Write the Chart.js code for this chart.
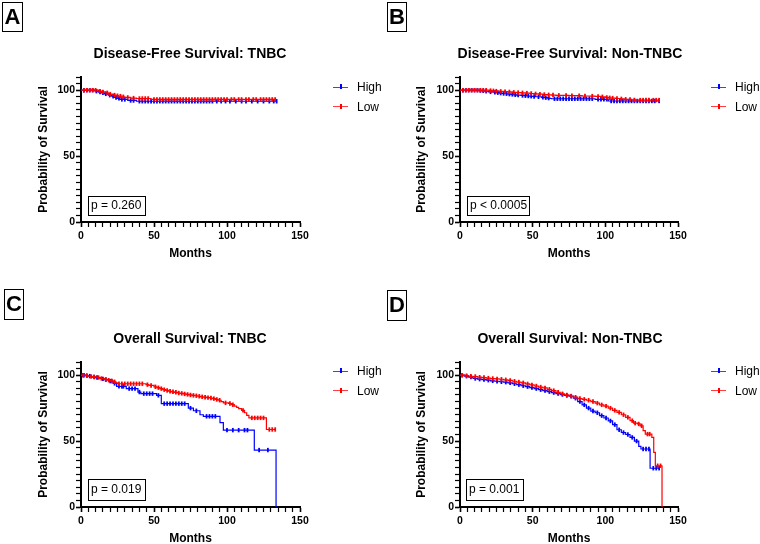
<!DOCTYPE html>
<html><head><meta charset="utf-8">
<script src="https://cdn.jsdelivr.net/npm/chart.js@4.4.1/dist/chart.umd.min.js"></script>
<style>
html,body{margin:0;padding:0;background:#fff;overflow:hidden;width:760px;height:544px;}
body{position:relative;font-family:'Liberation Sans',Arial,Helvetica,sans-serif;color:#000;}
canvas{position:absolute;}
.letter{position:absolute;border:1.5px solid #000;font-weight:bold;font-size:22px;text-align:center;box-sizing:border-box;}
.pbox{position:absolute;border:1.5px solid #000;font-size:12px;box-sizing:border-box;padding-left:2px;white-space:nowrap;}
.lgline{position:absolute;height:1px;width:15px;}
.lgtick{position:absolute;width:2px;height:5px;}
.lgtext{position:absolute;font-size:12px;line-height:14px;white-space:nowrap;}
</style>
</head><body>
<script>
// ---------- data ----------
const seriesNames = ['High', 'Low'];
const panelLetters = ['A', 'B', 'C', 'D'];
const panelTitles = ['Disease-Free Survival: TNBC', 'Disease-Free Survival: Non-TNBC', 'Overall Survival: TNBC', 'Overall Survival: Non-TNBC'];
const pValues = ['p = 0.260', 'p < 0.0005', 'p = 0.019', 'p = 0.001'];
const xTickLabels = [0, 50, 100, 150];
const yTickLabels = [0, 50, 100];

// [months, survival %]; a point equal to the previous level is a censored observation
const dfsTnbcHigh = [[0,100],[2,100],[4,100],[6,100],[8,100],[9.6,99.2],[10.6,99.2],[12,98.6],[13,98.6],[14,98],[15,98],[16,97.2],[17,97.2],[18.7,96.2],[19.7,96.2],[21,95.4],[22,95.4],[23,94.5],[24,94.5],[25,93.8],[26,93.8],[26.7,93],[28,93],[30,93],[32,92.2],[34,92.2],[36,92.2],[38,91.6],[40,91.6],[42,91.6],[44,91.6],[46,91.6],[48,91.6],[50,91.6],[52,91.6],[54,91.6],[56,91.6],[58,91.6],[60,91.6],[62,91.6],[64,91.6],[66,91.6],[68,91.6],[70,91.6],[72,91.6],[74,91.6],[76,91.6],[78,91.6],[80,91.6],[82,91.6],[84,91.6],[86,91.6],[88,91.6],[90,91.6],[93,91.6],[96,91.6],[99,91.6],[102,91.6],[106,91.6],[110,91.6],[113,91.6],[117,91.6],[121,91.6],[125,91.6],[129,91.6],[132,91.6],[134,91.6]];
const dfsTnbcLow = [[0,100],[2,100],[4,100],[6,100],[8,100],[10,100],[12,99.3],[13,99.3],[14,98.7],[15,98.7],[17,98],[18,98],[18.7,97],[20,97],[22,96.3],[23,96.3],[24,95.8],[25,95.8],[25.5,95.5],[27,95.5],[28,95],[29,95],[30,94.5],[32,94.5],[34,94],[36,94],[38,93.7],[40,93.7],[42,93.7],[44,93.7],[46,93.7],[48,93],[50,93],[52,93],[54,93],[56,93],[58,93],[60,93],[62,93],[64,93],[66,93],[68,93],[70,93],[72,93],[74,93],[76,93],[78,93],[80,93],[82,93],[84,93],[86,93],[88,93],[90,93],[92,93],[94,93],[96,93],[98,93],[100,93],[103,93],[105,93],[108,93],[110,93],[113,93],[115,93],[118,93],[120,93],[123,93],[125,93],[127,93],[129,93],[131,93],[133,93]];
const dfsNonTnbcHigh = [[0,100],[2,100],[4,100],[6,100],[8,100],[10,100],[12,100],[13,99.7],[14,99.7],[15,99.5],[16,99.5],[17,99.2],[18,99.2],[19.5,98.7],[21,98.7],[23,98.4],[24,98.4],[25,98.1],[26,98.1],[27,97.8],[28,97.8],[29,97.5],[30,97.5],[31,97.3],[32,97.3],[33,97],[34,97],[35,96.8],[36,96.8],[37,96.5],[38,96.5],[39,96.3],[40,96.3],[42,96],[43,96],[44,95.8],[45,95.8],[46,95.6],[47,95.6],[48,95.4],[49,95.4],[50,95.2],[51,95.2],[52,95],[54,95],[56,94.6],[57,94.6],[58,94.3],[59,94.3],[60,94],[61,94],[62,93.7],[63,93.5],[65,93.5],[67,93.5],[69,93.5],[71,93.5],[73,93.5],[75,93.5],[77,93.5],[79,93.5],[81,93.5],[83,93.5],[85,93.5],[87,93.5],[89,93.5],[91,93.5],[93,93.1],[95,93.1],[97,93.1],[99,93.1],[101,93.1],[102,91.8],[104,91.8],[106,91.8],[108,91.8],[110,91.8],[112,91.8],[114,91.8],[116,91.8],[118,91.8],[120,91.8],[122,91.8],[124,91.8],[126,91.8],[128,91.8],[130,91.8],[132,91.8],[134,91.8],[137,91.8]];
const dfsNonTnbcLow = [[0,100],[2,100],[4,100],[6,100],[8,100],[10,100],[12,100],[14,100],[16,100],[18,100],[20,99.7],[21,99.7],[22,99.5],[23,99.5],[24,99.3],[25,99.3],[27,99.1],[28,99.1],[30,98.9],[31,98.9],[33,98.7],[34,98.7],[36,98.4],[37,98.4],[39,98.2],[40,98.2],[42,98],[43,98],[45,97.8],[46,97.8],[48,97.5],[49,97.5],[51,97.2],[52,97.2],[54,97],[55,97],[57,96.7],[58,96.7],[60,96.5],[61,96.5],[63,96.3],[64,96.3],[66,96.1],[68,96.1],[71,96],[73,96],[75,95.9],[77,95.9],[80,95.8],[82,95.8],[84,95.6],[86,95.6],[89,95.5],[91,95.5],[93,95.3],[95,95.3],[97,95],[98,95],[100,94.5],[101,94.5],[102,94.2],[103,94.2],[104,94],[105,94],[107,93.7],[108,93.7],[110,93.4],[111,93.4],[113,93.1],[114,93.1],[116,92.9],[117,92.9],[118,92.6],[120,92.6],[122,92.5],[124,92.5],[126,92.5],[128,92.5],[130,92.5],[133,92.5],[135,92.5],[137,92.5]];
const osTnbcHigh = [[0,100],[1,100],[2,100],[3,99.6],[4,99.6],[5,99.3],[6,99.3],[7,99],[8,98.6],[9,98.6],[10,98.2],[11,98.2],[13,97.6],[14,97.2],[15,97.2],[16,96.6],[17,96.6],[19,95.5],[20,95.5],[21,95.5],[22,93.8],[23,93.8],[24.4,91.5],[26,91.5],[28,91.5],[29,91.5],[31,89.8],[33,89.8],[35,89.8],[37,89.8],[39,87.2],[40,87.2],[41,86],[43,86],[45,86],[47,86],[49,86],[51.8,84.7],[53,84.7],[55,78.4],[57,78.4],[59,78.4],[61,78.4],[63,78.4],[65,78.4],[67,78.4],[69,78.4],[71,78.4],[73.5,75],[75,75],[77,73],[79,73],[81.5,70],[83.8,68.8],[86,68.8],[88,68.8],[90,68.8],[92,68.8],[95.2,64],[97.5,58.3],[100,58.3],[104,58.3],[108,58.3],[112,58.3],[114,58.3],[118.7,43.2],[122,43.2],[128,43.2],[133.6,0]];
const osTnbcLow = [[0,100],[1.5,100],[3,99.6],[4,99.6],[5,99.3],[6,99],[7,99],[8,98.7],[9,98.7],[11,98.2],[12,98.2],[13,97.5],[14,97.5],[16,96.8],[17,96.8],[18,96.2],[19,96.2],[20,95.7],[21,95.7],[22,95],[23,95],[24,94.2],[25,93.5],[26,93.5],[28,93.5],[30,93.5],[32,93.5],[34,93.5],[36,93.5],[38,93.5],[40,93.5],[42,93.5],[44.5,92.8],[45.5,92.8],[46.5,92.2],[48,92.2],[50,91.2],[51,91.2],[52,90.5],[53,90.5],[54,89.8],[55,89.8],[56,89],[57,89],[58,88.4],[59,88.4],[60,87.8],[61,87.8],[62,87.4],[63,87.4],[64,87],[65,87],[66,86.5],[67,86.5],[68,86.2],[69,86.2],[70,85.8],[71,85.8],[72,85.4],[73,85.4],[74,85],[75,85],[76,84.7],[77,84.7],[78,84.4],[79,84.4],[80,84],[81,84],[82,83.6],[83,83.6],[84,83.3],[85,83.3],[86,83],[87,83],[88,82.7],[89,82.7],[90,82.2],[91,82.2],[92,81.6],[93,81.6],[94,81],[95,81],[96,80],[97.5,79],[99,79],[101,78.5],[102,78.5],[103,77.6],[104,77.6],[105,76.6],[106.6,75.6],[108,74.6],[110,73.3],[111,73.3],[112,71.5],[113.5,69.5],[115,67.6],[117,67.6],[119,67.6],[121,67.6],[123,67.6],[125,67.6],[127,58.8],[129,58.8],[131,58.8],[133,58.8]];
const osNonTnbcHigh = [[0,100],[1.5,100],[3,99.2],[4.5,99.2],[6,98.5],[7.5,98.5],[9,97.5],[10.5,97.5],[12,97],[13.5,97],[15,96.6],[16.5,96.6],[18,96.2],[19.5,96.2],[21,95.7],[22.5,95.7],[24,95.4],[25.5,95.4],[27,95],[28.5,95],[30,94.7],[31.5,94.7],[33,94.2],[34.5,94.2],[36,93.5],[37.5,93.5],[39,92.8],[40.5,92.8],[42,92],[43.5,92],[45,91.3],[46.5,91.3],[48,90.6],[49.5,90.6],[51,89.8],[52.5,89.8],[54,89],[55.5,89],[57,88.3],[58.5,88.3],[60,87.5],[61.5,87.5],[63,86.8],[64.5,86.8],[66,86],[67.5,86],[69,85.3],[70.5,85.3],[72,84.6],[73.5,84.6],[75,84],[76.5,84],[78,82.5],[79.5,82.5],[81,80],[82.5,80],[84,77.5],[85.5,77.5],[87,75],[88.5,75],[90,72.8],[91.5,72.8],[93,71.5],[94.5,71.5],[96,69.3],[97.5,69.3],[99,67.5],[100.5,67.5],[102,65.3],[103.5,65.3],[105,62.5],[106.5,62.5],[108,58.6],[109.5,58.6],[111,56.5],[112.5,56.5],[114,55],[115.5,55],[117,52.8],[118.5,52.8],[120,50],[121.5,50],[123,46],[124.5,44],[126,44],[128,44],[130,44],[130.8,29.4],[133,29.4],[135,29.4],[137,29.4]];
const osNonTnbcLow = [[0,100],[1.5,100],[3,99.6],[4.5,99.6],[6,99.2],[7.5,99.2],[9,99],[10.5,99],[12,98.5],[13.5,98.5],[15,98.2],[16.5,98.2],[18,97.8],[19.5,97.8],[21,97.5],[22.5,97.5],[24,97.2],[25.5,97.2],[27,96.9],[28.5,96.9],[30,96.5],[31.5,96.5],[33,96],[34.5,96],[36,95.4],[37.5,95.4],[39,94.8],[40.5,94.8],[42,94.2],[43.5,94.2],[45,93.4],[46.5,93.4],[48,92.6],[49.5,92.6],[51,91.8],[52.5,91.8],[54,91],[55.5,91],[57,90.3],[58.5,90.3],[60,89.3],[61.5,89.3],[63,88.3],[64.5,88.3],[66,87],[67.5,87],[69,85.9],[70.5,85.9],[72,85],[73.5,85],[75,84.2],[76.5,84.2],[78,83.3],[79.5,83.3],[81,82.3],[82.5,82.3],[84,81.7],[85.5,81.7],[87,81],[88.5,81],[90,80],[91.5,80],[93,78.8],[94.5,78.8],[96,77.5],[97.5,77.5],[99,76.5],[100.5,76.5],[102,75],[103.5,75],[105,73.3],[106.5,73.3],[108,71.8],[109.5,71.8],[111,70],[112.5,70],[114,68],[115.5,68],[117,65.5],[118.5,65.5],[119.4,63.6],[120.5,63.6],[122,63],[123,63],[124,61.6],[125,61.6],[126,58],[127.5,55.3],[129,55.3],[130.5,55.3],[132,52.8],[133.3,41.4],[134.4,31.3],[136,31.3],[138,31.3],[139,0]];

// ---------- layout ----------
const BLUE = '#0000ff', RED = '#ff0000';
const seriesColors = [BLUE, RED];
const panels = [
  {high: dfsTnbcHigh, low: dfsTnbcLow, left: 0, top: 0, axisW: 81, titleOff: 32, rightW: 80,
   letterBox: [2, 2, 21, 30], pBox: [88, 196, 58, 20], legend: [333, 87]},
  {high: dfsNonTnbcHigh, low: dfsNonTnbcLow, left: 380, top: 0, axisW: 80, titleOff: 30.5, rightW: 82,
   letterBox: [387, 2, 20, 30], pBox: [467, 196, 63, 20], legend: [711, 87]},
  {high: osTnbcHigh, low: osTnbcLow, left: 0, top: 285, axisW: 81, titleOff: 32, rightW: 80,
   letterBox: [4, 289, 20, 31], pBox: [88, 479, 58, 22], legend: [333, 371]},
  {high: osNonTnbcHigh, low: osNonTnbcLow, left: 380, top: 285, axisW: 80, titleOff: 30.5, rightW: 82,
   letterBox: [387, 290, 20, 31], pBox: [466, 479, 58, 22], legend: [711, 371]}
];

Chart.defaults.font.family = "'Liberation Sans', Arial, Helvetica, sans-serif";
Chart.defaults.color = '#000';

function censoredRadius(ctx) {
  const d = ctx.dataset.data, i = ctx.dataIndex;
  return (i > 0 && d[i][1] === d[i - 1][1]) ? 2.2 : 0;
}
function makeDataset(name, data, color, order) {
  return {
    label: name, data: data, borderColor: color, backgroundColor: color,
    borderWidth: 1.2, stepped: 'before', fill: false, order: order,
    xAxisID: 'x', yAxisID: 'y',
    pointStyle: 'line', rotation: 90, pointRadius: censoredRadius, pointHoverRadius: 0,
    pointBorderColor: color, pointBorderWidth: 1.8
  };
}
function el(cls, css, text) {
  const d = document.createElement('div');
  d.className = cls;
  Object.assign(d.style, css);
  if (text !== undefined) d.textContent = text;
  document.body.appendChild(d);
  return d;
}

panels.forEach((p, k) => {
  const cv = document.createElement('canvas');
  cv.width = 380; cv.height = 264;
  cv.style.left = p.left + 'px'; cv.style.top = p.top + 'px';
  document.body.appendChild(cv);
  new Chart(cv, {
    type: 'line',
    data: {datasets: [
      makeDataset(seriesNames[0], p.high, seriesColors[0], 2),
      makeDataset(seriesNames[1], p.low, seriesColors[1], 1)
    ]},
    options: {
      responsive: false, animation: false, events: [],
      layout: {padding: 0},
      plugins: {
        legend: {display: false}, tooltip: {enabled: false},
        title: {display: true, text: panelTitles[k], color: '#000',
                font: {size: 14, weight: 'bold'}, padding: {top: 45.6, bottom: 14.6}}
      },
      scales: {
        x: {
          type: 'linear', min: 0, max: 150,
          afterFit: s => { s.height = 42; },
          ticks: {stepSize: 5, autoSkip: false, maxRotation: 0, padding: 3, color: '#000',
                  font: {size: 10.5, weight: 'bold'},
                  callback: v => xTickLabels.includes(v) ? String(v) : ''},
          grid: {drawOnChartArea: false, drawTicks: true, tickLength: 5, color: '#000',
                 tickWidth: c => (c.tick && xTickLabels.includes(c.tick.value)) ? 1.6 : 1.2},
          border: {display: true, color: '#000', width: 2},
          title: {display: true, text: 'Months', color: '#000',
                  font: {size: 12, weight: 'bold'}, padding: {top: 0, bottom: 3}}
        },
        y: {
          position: 'left', min: 0, max: 110,
          afterFit: s => { s.width = p.axisW; },
          ticks: {stepSize: 5, autoSkip: false, padding: 1, color: '#000',
                  font: {size: 10.5, weight: 'bold'},
                  callback: v => yTickLabels.includes(v) ? String(v) : ''},
          grid: {drawOnChartArea: false, drawTicks: true, tickLength: 5, color: '#000',
                 tickWidth: c => (c.tick && yTickLabels.includes(c.tick.value)) ? 1.6 : 1.2},
          border: {display: true, color: '#000', width: 2},
          title: {display: true, text: 'Probability of Survival', color: '#000',
                  font: {size: 12, weight: 'bold'}, padding: {top: p.titleOff + 4, bottom: 0}}
        },
        legendSpace: {
          type: 'linear', position: 'right', display: true,
          afterFit: s => { s.width = p.rightW; },
          ticks: {display: false}, grid: {display: false, drawTicks: false},
          border: {display: false}, title: {display: false}
        }
      }
    }
  });

  // panel letter
  const [lx, ly, lw, lh] = p.letterBox;
  el('letter', {left: lx + 'px', top: ly + 'px', width: lw + 'px', height: lh + 'px', lineHeight: (lh - 3) + 'px'}, panelLetters[k]);
  // p-value box
  const [bx, by, bw, bh] = p.pBox;
  el('pbox', {left: bx + 'px', top: by + 'px', width: bw + 'px', height: bh + 'px', lineHeight: (bh - 3) + 'px'}, pValues[k]);
  // legend
  const [gx, gy] = p.legend;
  seriesNames.forEach((name, j) => {
    const yy = gy + j * 19.5;
    el('lgline', {left: gx + 'px', top: (yy - 0.5) + 'px', background: seriesColors[j], opacity: 0.75});
    el('lgtick', {left: (gx + 7) + 'px', top: (yy - 3) + 'px', background: seriesColors[j]});
    el('lgtext', {left: (gx + 24) + 'px', top: (yy - 7) + 'px'}, name);
  });
});
</script>
</body></html>
